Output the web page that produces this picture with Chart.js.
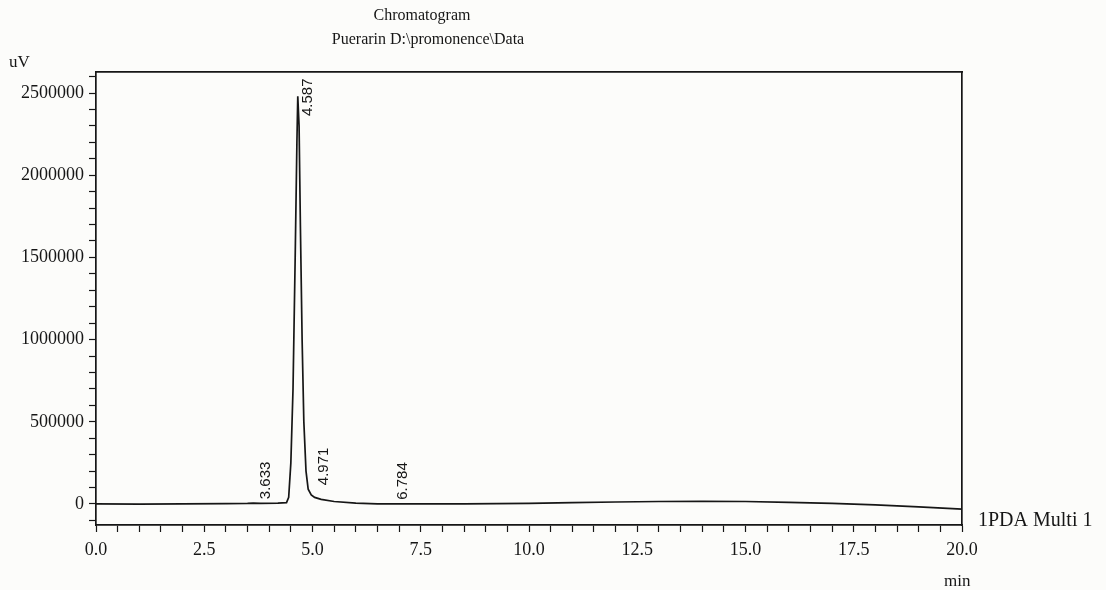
<!DOCTYPE html>
<html>
<head>
<meta charset="utf-8">
<script src="https://cdn.jsdelivr.net/npm/chart.js@4"></script>
<style>
    html, body { margin: 0; padding: 0; background: #fcfcfa; }
    #wrap { width: 1106px; height: 590px; position: relative; }
</style>
</head>
<body>
<div id="wrap"><canvas id="chromChart"></canvas></div>
<script>
// --- Data (min, uV) ---
const retentionTimes = [0, 1, 2, 3, 3.5, 3.633, 3.8, 4.2, 4.4, 4.45, 4.5, 4.55, 4.6, 4.64, 4.66, 4.69, 4.72, 4.76, 4.8, 4.85, 4.9, 4.971, 5.05, 5.2, 5.5, 6.0, 6.5, 6.784, 7.5, 8.5, 10, 11, 12, 13, 14, 15, 16, 17, 18, 19, 20];
const signal = [0, -1000, 0, 2000, 3000, 5000, 4000, 5000, 8000, 40000, 250000, 700000, 1500000, 2200000, 2480000, 2300000, 1700000, 1000000, 500000, 200000, 90000, 55000, 40000, 28000, 15000, 5000, 0, 1000, 0, 1000, 3000, 8000, 12000, 15000, 16000, 15000, 10000, 3000, -6000, -18000, -32000];
const peakLabels = ['3.633', '4.587', '4.971', '6.784'];
const xMajorStep = 2.5;
const yMajorStep = 500000;

const SERIF = '"Liberation Serif", "DejaVu Serif", serif';
const INK = '#161616';

const points = retentionTimes.map((t, i) => ({ x: t, y: signal[i] }));

function onStep(v, step) {
    return Math.abs(v / step - Math.round(v / step)) < 1e-6;
}

// texts around the frame + peak time labels
const annotations = {
    id: 'annotations',
    afterDraw(chart) {
        const { ctx, chartArea, scales } = chart;
        ctx.save();
        ctx.fillStyle = INK;
        ctx.textBaseline = 'alphabetic';

        ctx.font = '16px ' + SERIF;
        ctx.textAlign = 'center';
        ctx.fillText('Chromatogram', 422, 20);
        ctx.fillText('Puerarin D:\\promonence\\Data', 428, 44);

        ctx.textAlign = 'left';
        ctx.font = '17px ' + SERIF;
        ctx.fillText('uV', 9, 67);
        ctx.font = '20px ' + SERIF;
        ctx.fillText('1PDA Multi 1', chartArea.right + 16, scales.y.getPixelForValue(0) + 22);
        ctx.font = '17px ' + SERIF;
        ctx.fillText('min', chartArea.right - 18, 586);

        // rotated retention times
        ctx.font = '15px "Liberation Sans", Arial, sans-serif';
        peakLabels.forEach(lbl => {
            const t = parseFloat(lbl);
            let top = 0;
            retentionTimes.forEach((rt, i) => {
                if (Math.abs(rt - t) <= 0.1) top = Math.max(top, signal[i]);
            });
            const x = scales.x.getPixelForValue(t) + 17;
            const y = Math.max(scales.y.getPixelForValue(top) - 4, chartArea.top + 44);
            ctx.save();
            ctx.translate(x, y);
            ctx.rotate(-Math.PI / 2);
            ctx.textAlign = 'left';
            ctx.fillText(lbl, 0, 0);
            ctx.restore();
        });
        ctx.restore();
    }
};

const ctx = document.getElementById('chromChart').getContext('2d');

new Chart(ctx, {
    type: 'line',
    data: {
        datasets: [{
            data: points,
            borderColor: INK,
            borderWidth: 1.7,
            pointRadius: 0,
            tension: 0,
            fill: false
        }]
    },
    options: {
        responsive: true,
        maintainAspectRatio: false,
        animation: false,
        layout: { padding: { top: 72, right: 144, left: 0, bottom: 0 } },
        plugins: {
            legend: { display: false },
            tooltip: { enabled: false },
            title: { display: false }
        },
        scales: {
            x: {
                type: 'linear',
                min: 0,
                max: 20,
                afterBuildTicks: scale => {
                    const ticks = [];
                    for (let v = 0; v <= 20 + 1e-9; v += 0.5) ticks.push({ value: +v.toFixed(1) });
                    scale.ticks = ticks;
                },
                afterFit: scale => { scale.height = 65; },
                ticks: {
                    autoSkip: false,
                    maxRotation: 0,
                    padding: 7,
                    color: INK,
                    font: { family: SERIF, size: 18 },
                    callback: v => onStep(v, xMajorStep) ? v.toFixed(1) : ''
                },
                grid: {
                    display: true,
                    drawOnChartArea: false,
                    drawTicks: true,
                    tickLength: 7,
                    tickColor: INK,
                    tickWidth: 1.2
                },
                border: { display: true, color: INK, width: 1.7 }
            },
            y: {
                type: 'linear',
                min: -128000,
                max: 2628000,
                afterBuildTicks: scale => {
                    const ticks = [];
                    for (let v = -100000; v <= 2600000; v += 100000) ticks.push({ value: v });
                    scale.ticks = ticks;
                },
                afterFit: scale => { scale.width = 96; },
                ticks: {
                    autoSkip: false,
                    padding: 5,
                    color: INK,
                    font: { family: SERIF, size: 18 },
                    callback: v => onStep(v, yMajorStep) ? String(v) : ''
                },
                grid: {
                    display: true,
                    drawOnChartArea: false,
                    drawTicks: true,
                    tickLength: 7,
                    tickColor: INK,
                    tickWidth: 1.2
                },
                border: { display: true, color: INK, width: 1.7 }
            },
            xTop: {
                type: 'linear',
                position: 'top',
                min: 0,
                max: 20,
                afterFit: scale => { scale.height = 0; },
                ticks: { display: false },
                grid: { display: false },
                border: { display: true, color: INK, width: 1.7 }
            },
            yRight: {
                type: 'linear',
                position: 'right',
                min: -128000,
                max: 2628000,
                afterFit: scale => { scale.width = 0; },
                ticks: { display: false },
                grid: { display: false },
                border: { display: true, color: INK, width: 1.7 }
            }
        }
    },
    plugins: [annotations]
});
</script>
</body>
</html>
